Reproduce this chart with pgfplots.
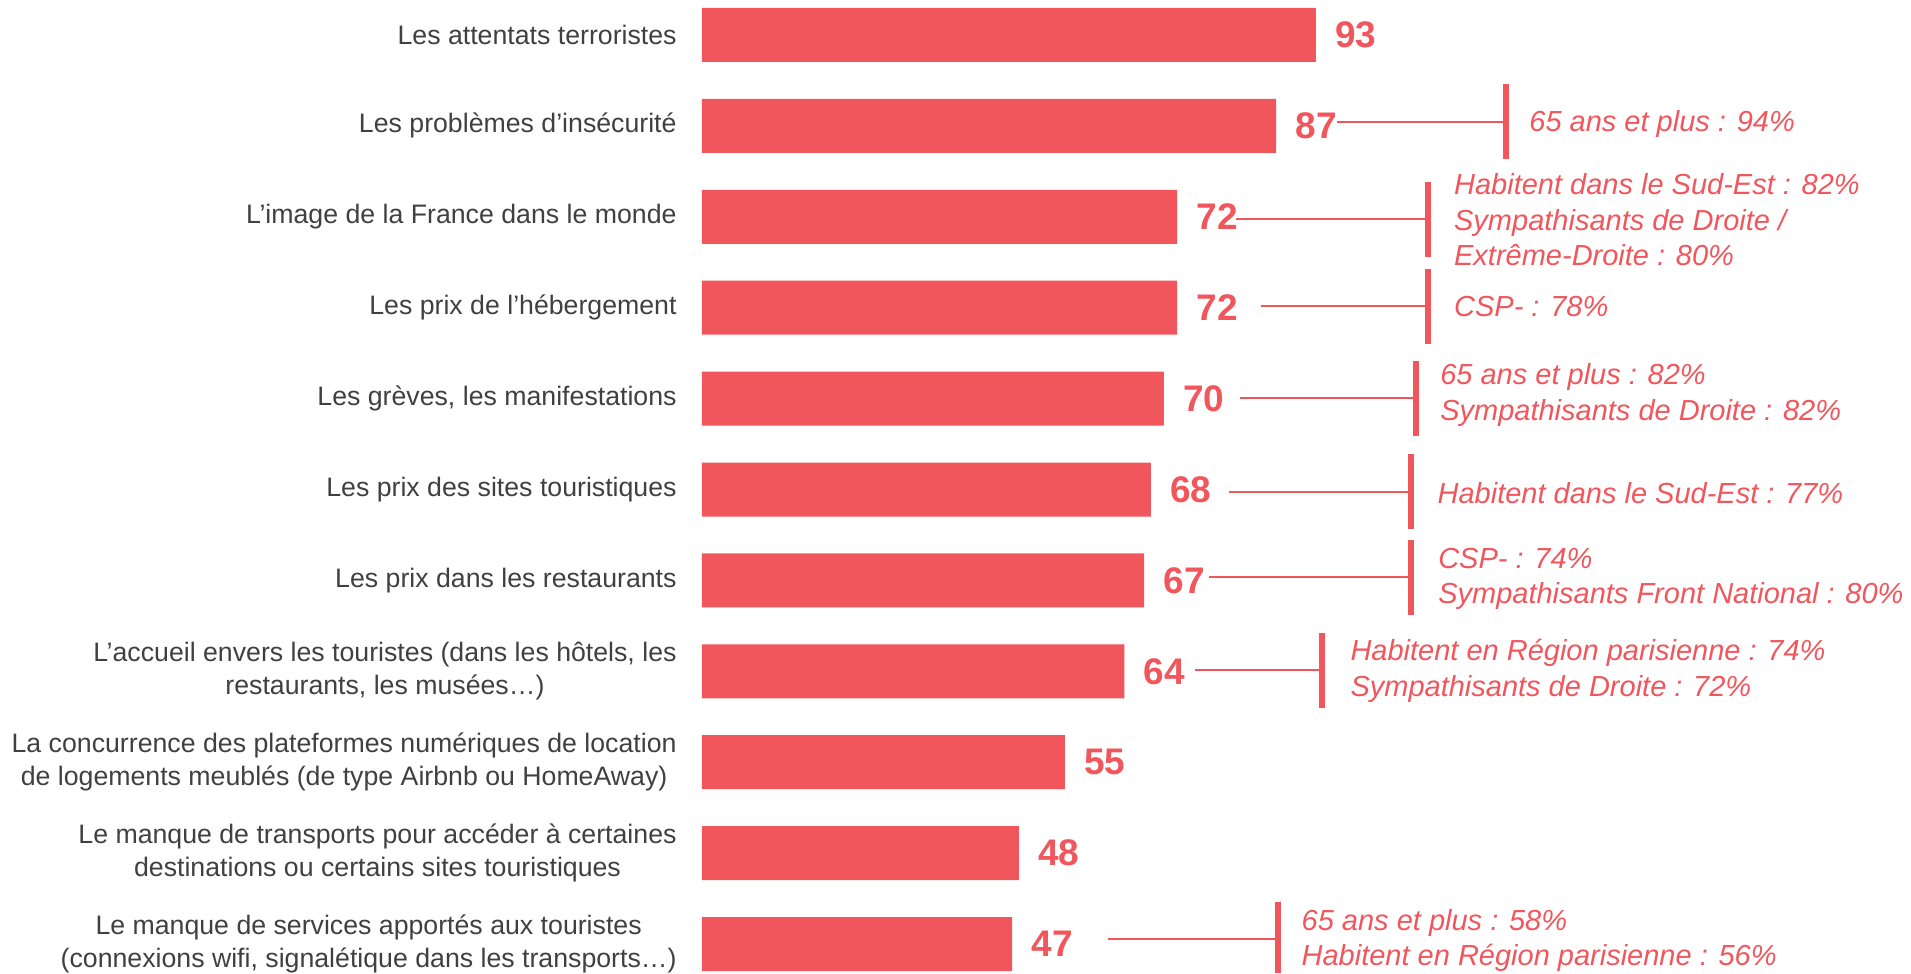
\documentclass[border=0pt]{standalone}
\usepackage{fontspec}
\setmainfont{Liberation Sans}
\usepackage{pgfplots}
\pgfplotsset{compat=1.18}
\definecolor{barred}{RGB}{240,86,92}
\definecolor{labgray}{RGB}{64,64,64}
\tikzset{
  ann/.style={font=\itshape\fontsize{14.5}{17.75}\selectfont, text=barred, inner sep=0pt, align=left, anchor=west},
  conn/.style={draw=barred, line width=1.2pt},
  vbar/.style={draw=barred, line width=3pt},
}
\begin{document}
\begin{tikzpicture}
\begin{axis}[
  scale only axis, width=604.5pt, height=486.5pt,
  xmin=0, xmax=183.18, ymin=-0.385, ymax=10.319, y dir=reverse,
  axis line style={draw=none}, xtick=\empty, ytick={0,...,10},
  major tick length=0pt, ytick style={draw=none},
  yticklabels={
    {Les attentats terroristes},
    {Les problèmes d’insécurité},
    {L’image de la France dans le monde},
    {Les prix de l’hébergement},
    {Les grèves, les manifestations},
    {Les prix des sites touristiques},
    {Les prix dans les restaurants},
    {L’accueil envers les touristes (dans les hôtels, les\\restaurants, les musées…)},
    {La concurrence des plateformes numériques de location\\de logements meublés (de type Airbnb ou HomeAway)},
    {Le manque de transports pour accéder à certaines\\destinations ou certains sites touristiques},
    {Le manque de services apportés aux touristes\\(connexions wifi, signalétique dans les transports…)}
  },
  yticklabel style={font=\fontsize{13.35}{16.5}\selectfont, text=labgray, align=center, anchor=east, inner sep=0pt, xshift=-12.5pt},
  xbar, bar width=0.594, clip=false,
  nodes near coords,
  nodes near coords style={font=\bfseries\fontsize{18.5}{20}\selectfont, text=barred, anchor=west, inner sep=0pt, xshift=9.5pt},
  /pgf/number format/assume math mode=true,
]
\addplot[fill=barred, draw=none] coordinates {(93,0) (87,1) (72,2) (72,3) (70,4) (68,5) (67,6) (64,7) (55,8) (48,9) (47,10)};

% row 2
\draw[conn] (axis cs:96.2,0.957) -- (axis cs:121.8,0.957);
\draw[vbar] (axis cs:121.8,0.539) -- (axis cs:121.8,1.364);
\node[ann] at (axis cs:125.3,0.98) {65 ans et plus : 94\%};
% row 3
\draw[conn] (axis cs:80.9,2.024) -- (axis cs:110.0,2.024);
\draw[vbar] (axis cs:110.0,1.617) -- (axis cs:110.0,2.442);
\node[ann] at (axis cs:113.9,2.035) {Habitent dans le Sud-Est : 82\%\\Sympathisants de Droite /\\Extrême-Droite : 80\%};
% row 4
\draw[conn] (axis cs:84.7,2.981) -- (axis cs:110.0,2.981);
\draw[vbar] (axis cs:110.0,2.574) -- (axis cs:110.0,3.399);
\node[ann] at (axis cs:113.9,2.99) {CSP- : 78\%};
% row 5
\draw[conn] (axis cs:81.5,3.993) -- (axis cs:108.2,3.993);
\draw[vbar] (axis cs:108.2,3.586) -- (axis cs:108.2,4.411);
\node[ann] at (axis cs:111.8,3.96) {65 ans et plus : 82\%\\Sympathisants de Droite : 82\%};
% row 6
\draw[conn] (axis cs:79.8,5.027) -- (axis cs:107.4,5.027);
\draw[vbar] (axis cs:107.4,4.609) -- (axis cs:107.4,5.435);
\node[ann] at (axis cs:111.4,5.04) {Habitent dans le Sud-Est : 77\%};
% row 7
\draw[conn] (axis cs:76.8,5.963) -- (axis cs:107.4,5.963);
\draw[vbar] (axis cs:107.4,5.556) -- (axis cs:107.4,6.381);
\node[ann] at (axis cs:111.5,5.985) {CSP- : 74\%\\Sympathisants Front National : 80\%};
% row 8
\draw[conn] (axis cs:74.7,6.986) -- (axis cs:93.9,6.986);
\draw[vbar] (axis cs:93.9,6.579) -- (axis cs:93.9,7.404);
\node[ann] at (axis cs:98.2,6.997) {Habitent en Région parisienne : 74\%\\Sympathisants de Droite : 72\%};
% row 11
\draw[conn] (axis cs:61.5,9.945) -- (axis cs:87.3,9.945);
\draw[vbar] (axis cs:87.3,9.538) -- (axis cs:87.3,10.319);
\node[ann] at (axis cs:90.8,9.961) {65 ans et plus : 58\%\\Habitent en Région parisienne : 56\%};

\coordinate (tl) at (axis cs:-106.36,-0.385);
\coordinate (br) at (axis cs:183.18,10.319);
\end{axis}
\pgfresetboundingbox
\path[use as bounding box] (tl) rectangle (br);
\end{tikzpicture}
\end{document}
